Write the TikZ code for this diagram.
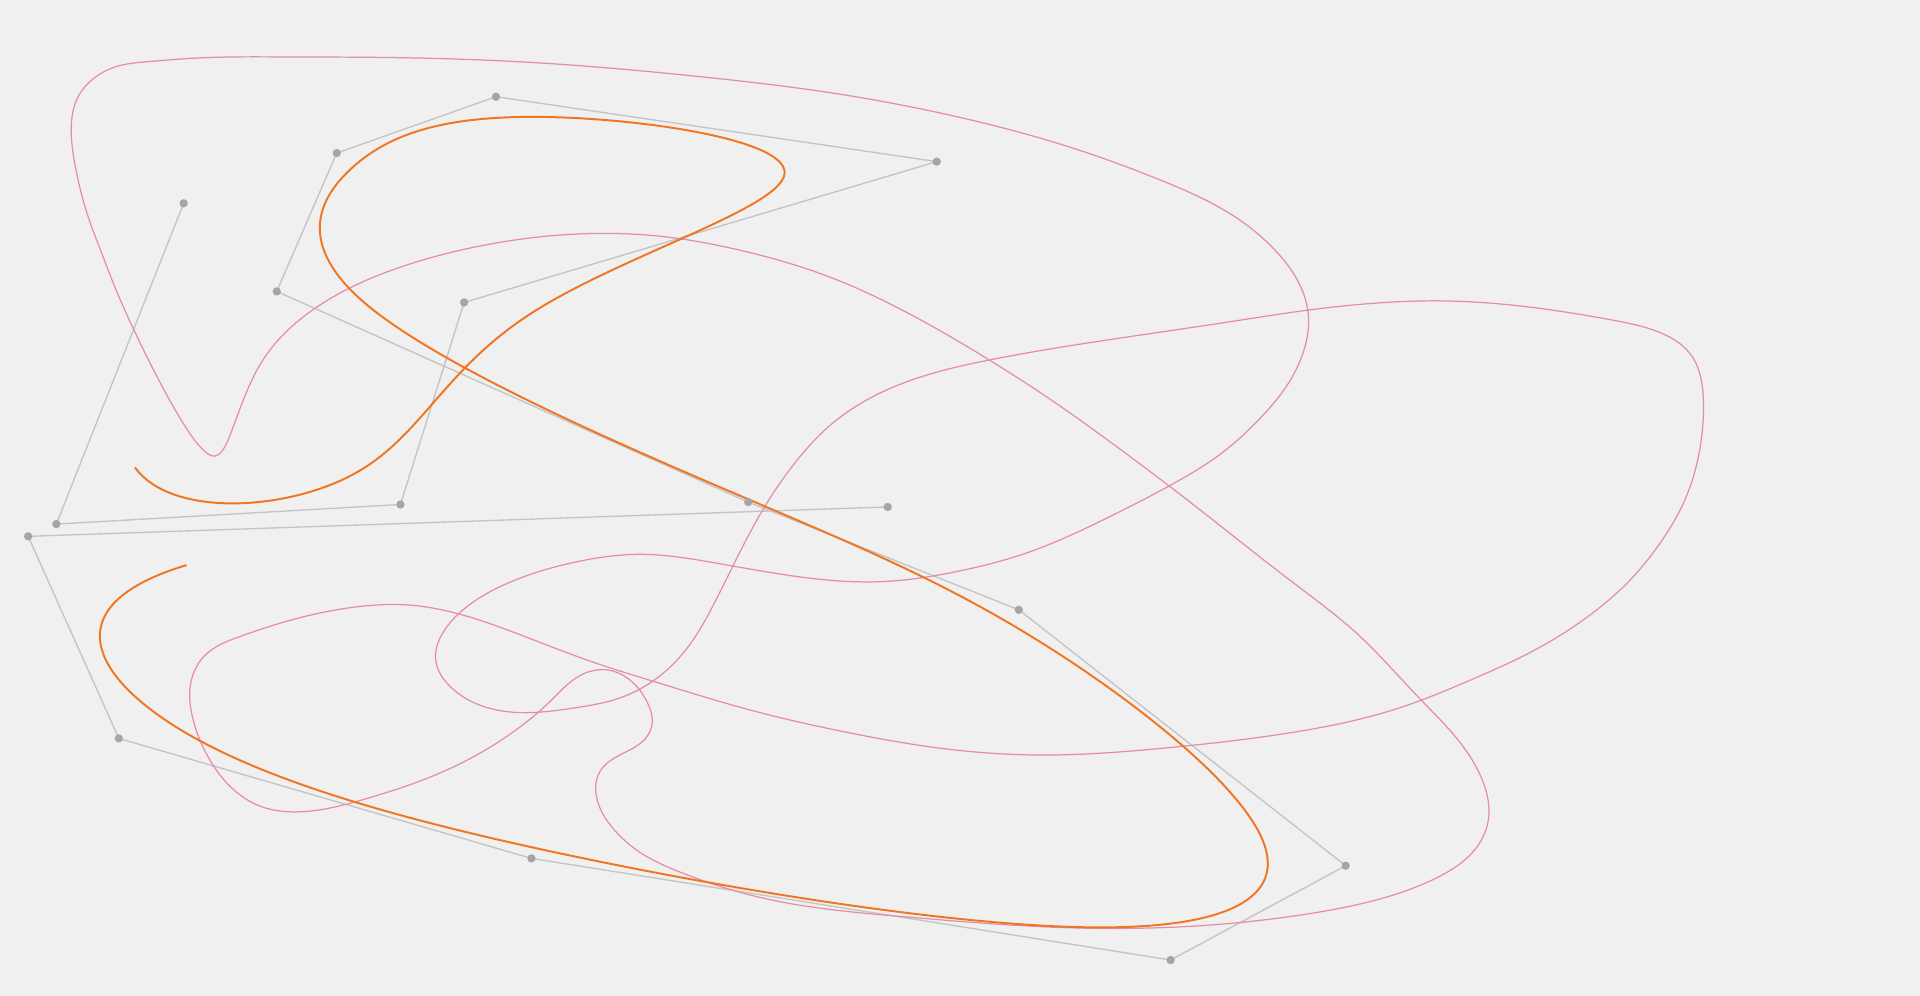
\documentclass[tikz,border=0pt]{standalone}
\usepackage{tikz}
\usetikzlibrary{calc, hobby}
\definecolor{bgcolor}{RGB}{240,240,240}
\definecolor{polycolor}{RGB}{196,196,196}
\definecolor{dotcolor}{RGB}{165,165,165}
\definecolor{splinecolor}{RGB}{240,118,36}
\definecolor{loopcolor}{RGB}{230,140,170}

\begin{document}
\begin{tikzpicture}[
    x=0.5pt, y=-0.5pt,
    dot/.style={circle, fill=dotcolor, inner sep=0pt, minimum size=3.4pt},
    polyline/.style={draw=polycolor, line width=0.55pt},
    bspline/.style={draw=splinecolor, line width=0.8pt, line join=round},
    loopline/.style={draw=loopcolor, line width=0.5pt, line join=round}
]
\fill[bgcolor] (0,0) rectangle (1568,813);
\useasboundingbox (0,0) rectangle (1568,813);

% control points
\coordinate (c0) at (150,166);
\coordinate (c1) at (46,428);
\coordinate (c2) at (327,412);
\coordinate (c3) at (379,247);
\coordinate (c4) at (765,132);
\coordinate (c5) at (405,79);
\coordinate (c6) at (275,125);
\coordinate (c7) at (226,238);
\coordinate (c8) at (611,410);
\coordinate (c9) at (832,498);
\coordinate (c10) at (1099,707);
\coordinate (c11) at (956,784);
\coordinate (c12) at (434,701);
\coordinate (c13) at (97,603);
\coordinate (c14) at (23,438);
\coordinate (c15) at (725,414);

% control polygon
\draw[polyline] (c0) -- (c1) -- (c2) -- (c3) -- (c4) -- (c5) -- (c6) -- (c7)
    -- (c8) -- (c9) -- (c10) -- (c11) -- (c12) -- (c13) -- (c14) -- (c15);

% closed curve
\draw[loopline] plot[closed hobby] coordinates {
    (176,372.4) (167.7,369) (153,351) (138.5,326.7) (124,299.4) (109.4,269.5)
    (94.8,236.8) (82,204) (71,174) (63.8,147) (59,120) (58.3,100.7) (63.8,79)
    (76.6,64) (94.8,54.4) (120.3,50.4) (156.8,47.6) (230,46.5) (302.6,46.8)
    (437.5,51.2) (571.6,62.6) (680,76) (780,95) (870,119) (950,148)
    (1010,178) (1041.2,204.2) (1059.5,228.7) (1068.6,258.6) (1064.9,285.8)
    (1052.2,313) (1030.3,340.3) (997.5,370.2) (953.8,397.4) (900,425)
    (840,451) (780,467) (720,475) (660,472) (578.2,458.7) (523.6,452.7)
    (470,459) (420,474) (385,492.7) (363.1,514.5) (355.8,539) (368,561)
    (395,577) (430,582) (470,578) (505.3,570.3) (534.5,555.3) (560,530.8)
    (581.9,495.4) (603.7,451.9) (625.6,412) (650,377) (676.7,348.4)
    (724,318.5) (807.9,294) (895.4,279) (1004.8,262.7) (1068.6,253.2)
    (1130,247.1) (1175,245.7) (1242.5,250) (1317.4,261.5) (1358.7,272.9)
    (1381.2,290.1) (1390.6,318.7) (1390.6,347.4) (1385,381.8) (1373.7,413.2)
    (1354.9,444.7) (1328.7,476.3) (1298.7,502.1) (1253.7,530.7) (1205,553.6)
    (1140,579) (1050,599) (950,611) (850,616.6) (760,610) (695.8,598.9)
    (612.5,579.8) (534.5,556.7) (487.1,541.7) (432.4,521.3) (377.7,502.2)
    (333.9,494.1) (297.5,494.9) (242.8,505) (195.4,520) (166.3,536.3)
    (155.3,560.8) (157.1,585.3) (169.9,618) (188.1,642.4) (213.6,658.8)
    (246.5,662.9) (300,652) (360,631) (410,604) (450,572) (475,551)
    (495,547) (514,555) (529,574.4) (532.6,590.7) (527.2,603) (508.9,615.2)
    (490,630) (487,650) (501.7,677.8) (519.9,694.2) (560,714) (612.5,730.9)
    (737.5,748.6) (862.5,757.3) (966.7,756.8) (1070.8,745.9) (1133.4,732.3)
    (1175,716) (1204.2,694.2) (1215.8,667) (1212.5,642.4) (1188,601)
    (1157,568) (1111,520) (1055,475) (1010,440) (966.7,406)
    (913.6,366) (859,327) (807.9,294) (731.3,250.4) (676.7,225.9)
    (603.7,204.2) (546.8,193.8) (492,190.6) (437.5,193.8) (382.8,202.8)
    (328,217.8) (288,234) (255.2,253.2) (229.7,275) (211.4,299.4)
    (198.7,326.7) (189.6,351) (182,367.5)};

% uniform cubic B-spline, one Bezier piece per span
\draw[bspline] ($(c1)!1/3!($(c0)!.5!(c2)$)$)
    \foreach \a/\b/\c/\d in {0/1/2/3, 1/2/3/4, 2/3/4/5, 3/4/5/6, 4/5/6/7,
        5/6/7/8, 6/7/8/9, 7/8/9/10, 8/9/10/11, 9/10/11/12, 10/11/12/13,
        11/12/13/14, 12/13/14/15}
    { .. controls ($(c\b)!1/3!(c\c)$) and ($(c\b)!2/3!(c\c)$)
      .. ($(c\c)!1/3!($(c\b)!.5!(c\d)$)$) };

% control point dots
\foreach \i in {0,...,15}
    \node[dot] (p\i) at (c\i) {};
\end{tikzpicture}
\end{document}
